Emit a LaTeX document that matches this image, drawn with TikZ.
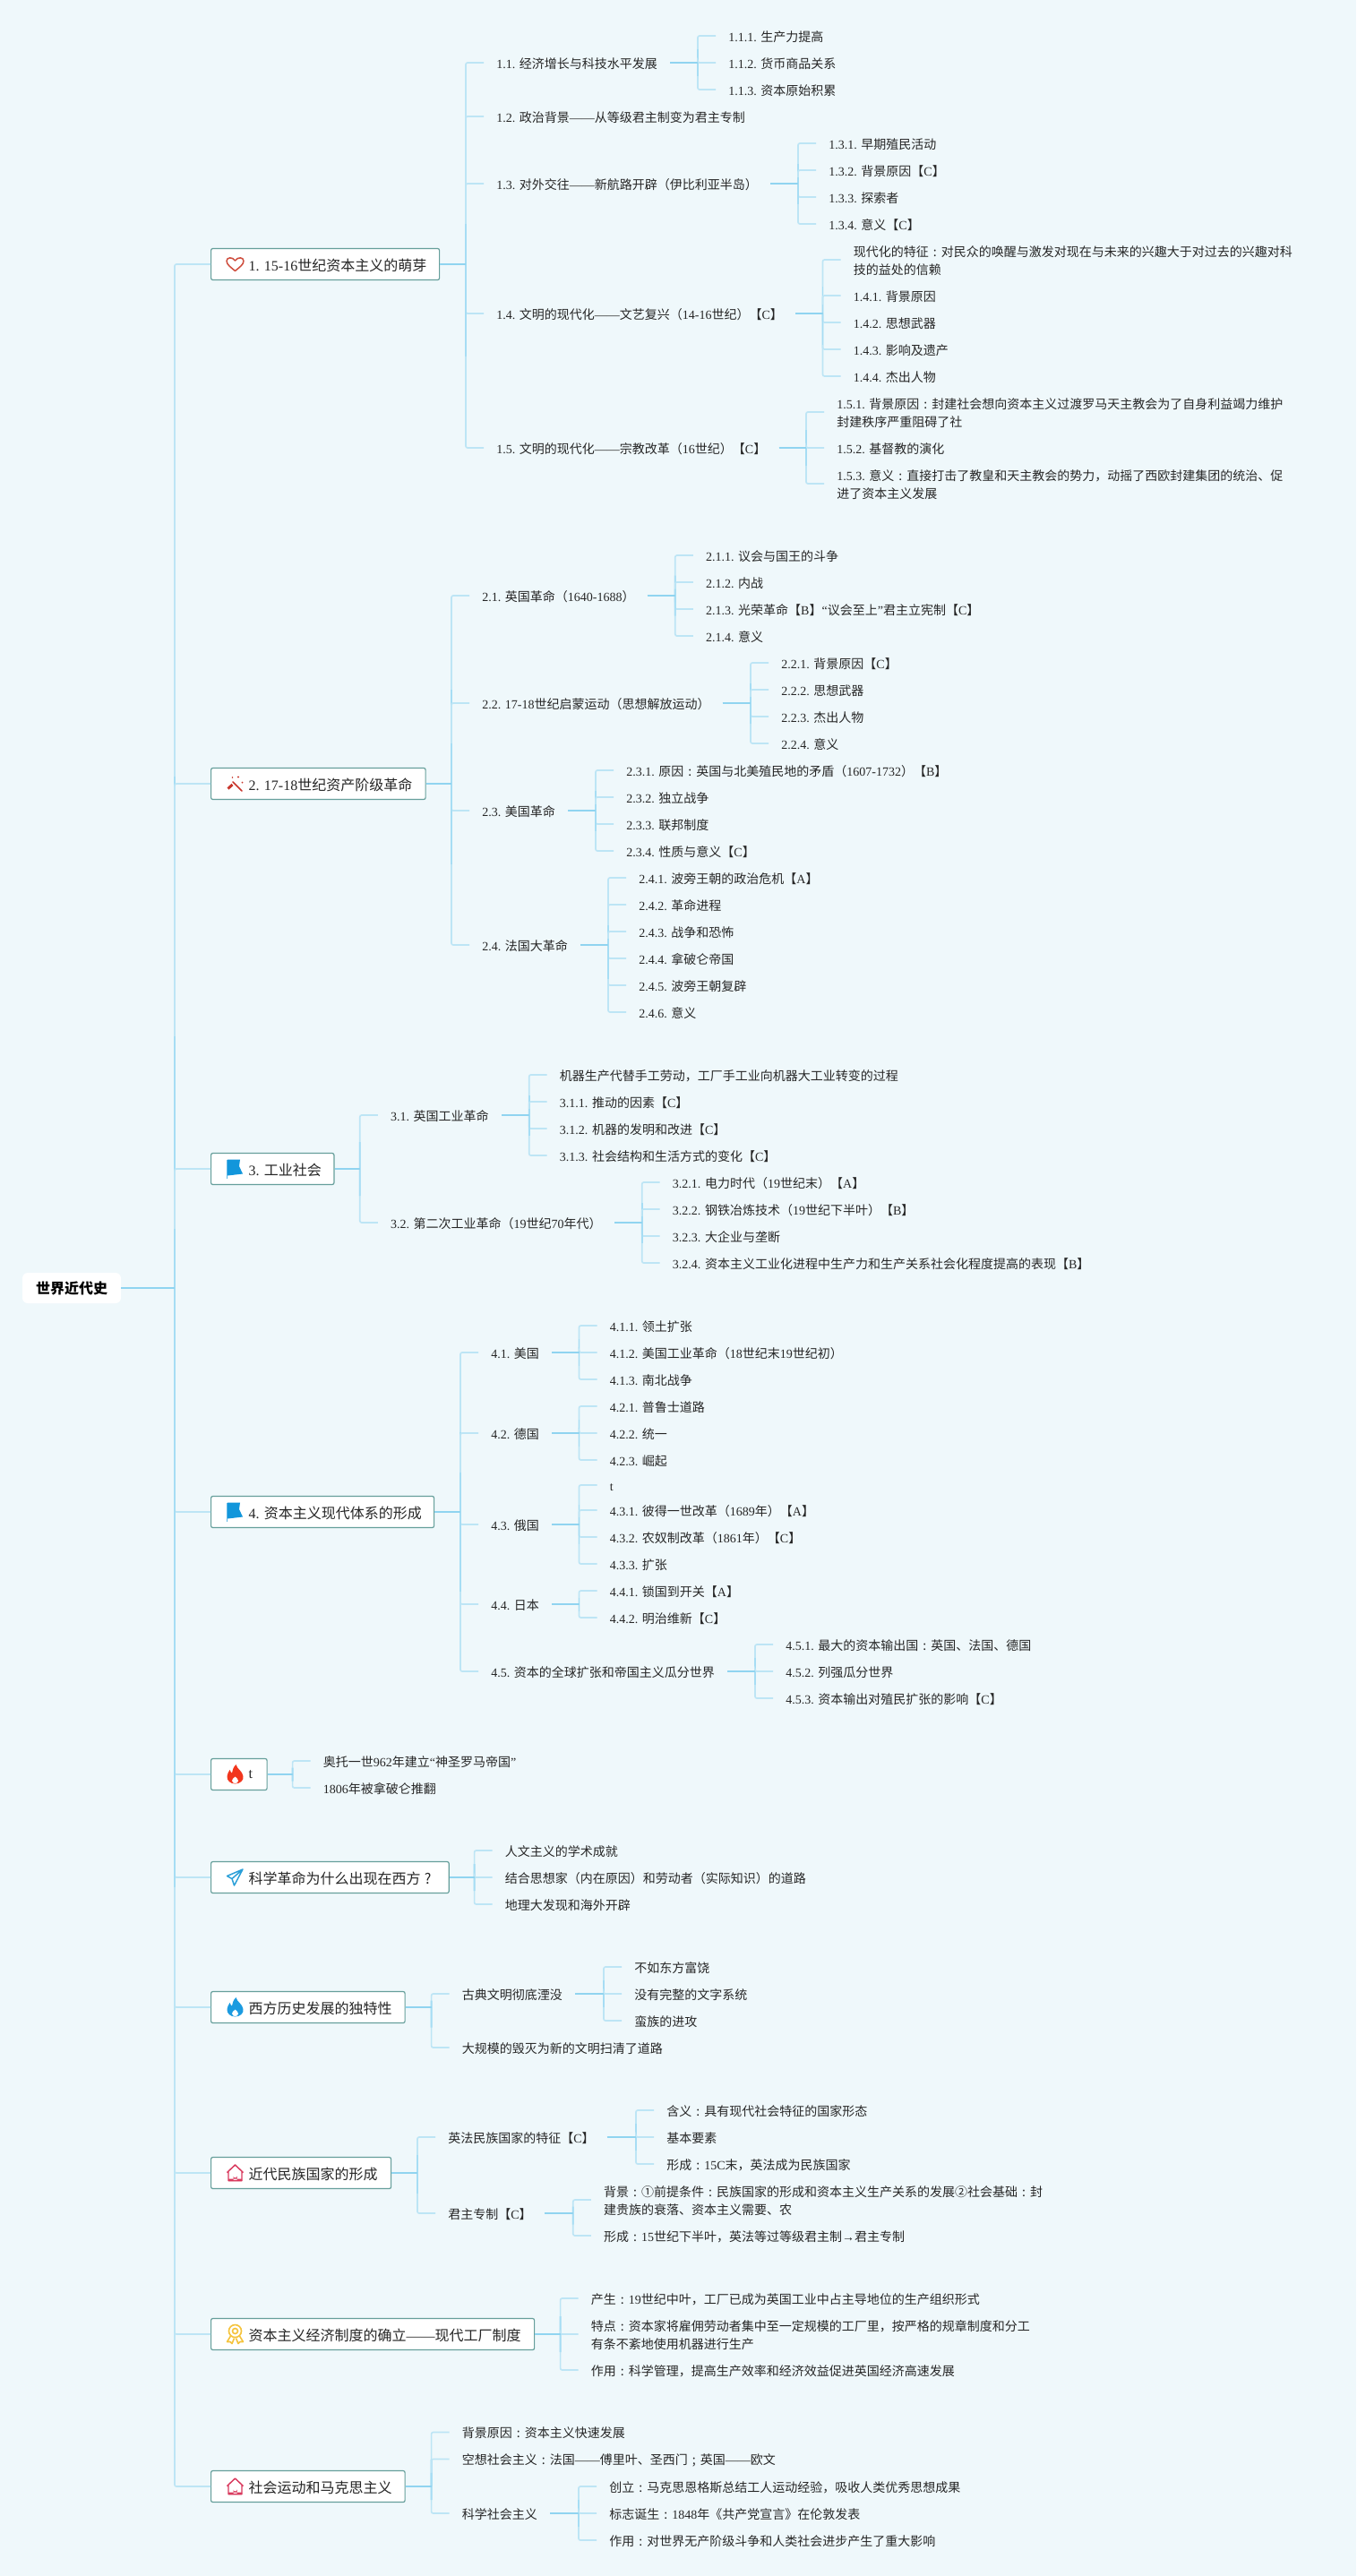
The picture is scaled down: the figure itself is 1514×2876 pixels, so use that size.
\documentclass[tikz,border=0pt]{standalone}
\usepackage{fontspec}
\usetikzlibrary{calc}
\setmainfont{Noto Sans CJK SC}
\newfontfamily\latinf{Liberation Serif}
\newcommand\ltn[1]{{\latinf #1}}
\newcommand\sw{\vrule width 0pt height 11pt depth 1.9pt\relax}
\newcommand\swb{\vrule width 0pt height 12.5pt depth 1.7pt\relax}
\newcommand\cn{\makebox[1em][c]{:}}
\newcommand\sm{\makebox[1em][c]{;}}
\newcommand\qm{\makebox[1em][c]{?}}
\definecolor{bgc}{HTML}{EFF8FB}
\definecolor{stemc}{HTML}{90D4F0}
\definecolor{midc}{HTML}{A6DDF4}
\definecolor{tickc}{HTML}{BDE5F5}
\definecolor{boxc}{HTML}{669F9B}
\definecolor{txt}{HTML}{262626}
\definecolor{heartc}{HTML}{CF4F3F}
\definecolor{wandc}{HTML}{C8352B}
\definecolor{flagc}{HTML}{1296DB}
\definecolor{flamer}{HTML}{F2361D}
\definecolor{flameb}{HTML}{1C9BE0}
\definecolor{planec}{HTML}{2A9FD8}
\definecolor{housec}{HTML}{D93A5E}
\definecolor{medalc}{HTML}{F5C33B}
\tikzset{
  leaf/.style={anchor=west,inner xsep=10.5pt,inner ysep=0pt,align=left,text=txt,
    font=\fontsize{10.5}{15}\selectfont},
  topbox/.style={anchor=west,draw=boxc,fill=white,line width=0.9pt,rounded corners=1.5pt,inner sep=0pt,
    minimum height=26.25pt,text=txt,font=\fontsize{12}{16}\selectfont},
  rootbox/.style={fill=white,rounded corners=4.5pt,inner sep=0pt,minimum width=82.5pt,minimum height=25.5pt,
    text=black,font=\fontsize{12}{16}\selectfont\bfseries},
  ticklink/.style={draw=tickc,line width=1.25pt,rounded corners=1.5pt},
  midlink/.style={draw=midc,line width=1.35pt},
  stemlink/.style={draw=stemc,line width=1.6pt},
}
\newcommand\lfn[4]{\node[leaf] (#1) at (#2,#3) {\sw #4};}
\newcommand\bx[5]{\node[topbox] (#1) at (235,#3) {\makebox[\dimexpr #2pt*3/4\relax][l]{\hspace*{31.5pt}\swb #5}};
  \begin{scope}[shift={(262.5,#3)}]#4\end{scope}}
\newcommand\fanout[3][20]{%
  \foreach \cc in {#3}{%
    \coordinate (sp) at ($(#2.east -| \cc.west)+(-#1,0)$);
    \draw[ticklink] (sp) |- (\cc.west);
    \draw[midlink] (sp) -- ($(sp)!0.5!(sp |- \cc.west)$);
    \draw[stemlink] (#2.east) -- (sp);
  }}
\newcommand\icoheart{\draw[draw=heartc,line width=1.15pt,line join=round]
  (0,7.5) .. controls (-4,4) and (-9.5,0.5) .. (-9.5,-3.5) .. controls (-9.5,-8) and (-3,-8.5) .. (0,-4)
  .. controls (3,-8.5) and (9.5,-8) .. (9.5,-3.5) .. controls (9.5,0.5) and (4,4) .. (0,7.5) -- cycle;}
\newcommand\icowand{\draw[draw=wandc,line width=1.3pt,line cap=round] (-2.5,-2) -- (7.5,8);
  \draw[draw=wandc,line width=2.2pt] (-8,5.5) -- (-3,1);
  \fill[wandc] (3.5,-7.5) circle (1.2) (8,-1.5) circle (1) (-3,-7) circle (.8);}
\newcommand\icoflag{\fill[flagc] (-8.5,-10.5) -- (5.5,-10.5) -- (4.5,-3) -- (8.5,5.5) -- (-8.5,7.5) -- cycle;
  \draw[draw=flagc!70!white,line width=.8pt] (-8.8,-10.5) -- (-8.8,11);}
\newcommand\icoflame[1]{\fill[#1] (1,-11) .. controls (2,-6) and (8,-4) .. (9,2) .. controls (10,7) and (5,10.5) .. (0,10.5)
  .. controls (-5,10.5) and (-9.5,7) .. (-9,2) .. controls (-8.7,-1) and (-7,-3) .. (-6,-5)
  .. controls (-5,-3) and (-4.5,-2) .. (-3.5,-1.5) .. controls (-3,-5) and (-2,-8) .. (1,-11) -- cycle;
  \fill[white] (0,2.5) .. controls (-2,4.5) and (-3.5,5.5) .. (-3.5,7) .. controls (-3.5,9) and (-1.5,10) .. (0,10)
  .. controls (2,10) and (3.5,9) .. (3.5,7) .. controls (3.5,5) and (1.5,4.5) .. (0,2.5) -- cycle;}
\newcommand\icoplane{\draw[draw=planec,line width=1.1pt,line join=round]
  (8.5,-9) -- (-9,-1.5) -- (-3.5,1.5) -- (-1,9) -- cycle (8.5,-9) -- (-3.5,1.5);}
\newcommand\icohouse{\draw[draw=housec,line width=1.1pt,line join=round]
  (-9,-0.5) -- (0,-9) -- (9,-0.5) (7.5,-2) -- (7.5,8.5) -- (-7.5,8.5) -- (-7.5,-2);
  \fill[housec] (-2,8.5) -- (-2,3.5) arc (180:0:2) -- (2,8.5) -- cycle (-7.5,6.5) rectangle (7.5,9);}
\newcommand\icomedal{\draw[draw=medalc,line width=1.2pt] (0,-3.5) circle (7) (0,-3.5) circle (3);
  \draw[draw=medalc,line width=1.2pt,line join=round] (-5,2) -- (-9,8.5) -- (-5.5,8.5) -- (-3.5,10.5) -- (-1,4.5)
    (5,2) -- (9,8.5) -- (5.5,8.5) -- (3.5,10.5) -- (1,4.5);}
\begin{document}
\lineskiplimit=-20pt
\begin{tikzpicture}[x=0.75pt,y=-0.75pt]
\useasboundingbox (0,0) rectangle (1514,2876);
\fill[bgc] (0,0) rectangle (1514,2876);

\node[rootbox] (root) at (80,1438) {世界近代史};

\bx{b1}{255}{295}{\icoheart}{\ltn{1. 15-16}世纪资本主义的萌芽}
\bx{b2}{239.5}{875}{\icowand}{\ltn{2. 17-18}世纪资产阶级革命}
\bx{b3}{137.3}{1305}{\icoflag}{\ltn{3. }工业社会}
\bx{b4}{249}{1688}{\icoflag}{\ltn{4. }资本主义现代体系的形成}
\bx{b5}{62.5}{1981}{\icoflame{flamer}}{\raisebox{2pt}{\ltn{t}}}
\bx{b6}{265.6}{2096}{\icoplane}{科学革命为什么出现在西方\qm}
\bx{b7}{216.5}{2241}{\icoflame{flameb}}{西方历史发展的独特性}
\bx{b8}{201}{2426}{\icohouse}{近代民族国家的形成}
\bx{b9}{361}{2606}{\icomedal}{资本主义经济制度的确立\ltn{——}现代工厂制度}
\bx{b10}{216.5}{2776}{\icohouse}{社会运动和马克思主义}

% branch 1
\lfn{n11}{540}{70}{\ltn{1.1. }经济增长与科技水平发展}
\lfn{n12}{540}{130}{\ltn{1.2. }政治背景\ltn{——}从等级君主制变为君主专制}
\lfn{n13}{540}{205}{\ltn{1.3. }对外交往\ltn{——}新航路开辟（伊比利亚半岛）}
\lfn{n14}{540}{350}{\ltn{1.4. }文明的现代化\ltn{——}文艺复兴（\ltn{14-16}世纪）【\ltn{C}】}
\lfn{n15}{540}{500}{\ltn{1.5. }文明的现代化\ltn{——}宗教改革（\ltn{16}世纪）【\ltn{C}】}
\lfn{n111}{799}{40}{\ltn{1.1.1. }生产力提高}
\lfn{n112}{799}{70}{\ltn{1.1.2. }货币商品关系}
\lfn{n113}{799}{100}{\ltn{1.1.3. }资本原始积累}
\lfn{n131}{911}{160}{\ltn{1.3.1. }早期殖民活动}
\lfn{n132}{911}{190}{\ltn{1.3.2. }背景原因【\ltn{C}】}
\lfn{n133}{911}{220}{\ltn{1.3.3. }探索者}
\lfn{n134}{911}{250}{\ltn{1.3.4. }意义【\ltn{C}】}
\lfn{n140}{938.5}{290}{现代化的特征\cn 对民众的唤醒与激发对现在与未来的兴趣大于对过去的兴趣对科\\\sw 技的益处的信赖}
\lfn{n141}{938.5}{330}{\ltn{1.4.1. }背景原因}
\lfn{n142}{938.5}{360}{\ltn{1.4.2. }思想武器}
\lfn{n143}{938.5}{390}{\ltn{1.4.3. }影响及遗产}
\lfn{n144}{938.5}{420}{\ltn{1.4.4. }杰出人物}
\lfn{n151}{920}{460}{\ltn{1.5.1. }背景原因\cn 封建社会想向资本主义过渡罗马天主教会为了自身利益竭力维护\\\sw 封建秩序严重阻碍了社}
\lfn{n152}{920}{500}{\ltn{1.5.2. }基督教的演化}
\lfn{n153}{920}{540}{\ltn{1.5.3. }意义\cn 直接打击了教皇和天主教会的势力，动摇了西欧封建集团的统治、促\\\sw 进了资本主义发展}

% branch 2
\lfn{n21}{524}{665}{\ltn{2.1. }英国革命（\ltn{1640-1688}）}
\lfn{n22}{524}{785}{\ltn{2.2. 17-18}世纪启蒙运动（思想解放运动）}
\lfn{n23}{524}{905}{\ltn{2.3. }美国革命}
\lfn{n24}{524}{1055}{\ltn{2.4. }法国大革命}
\lfn{n211}{773.8}{620}{\ltn{2.1.1. }议会与国王的斗争}
\lfn{n212}{773.8}{650}{\ltn{2.1.2. }内战}
\lfn{n213}{773.8}{680}{\ltn{2.1.3. }光荣革命【\ltn{B}】\ltn{“}议会至上\ltn{”}君主立宪制【\ltn{C}】}
\lfn{n214}{773.8}{710}{\ltn{2.1.4. }意义}
\lfn{n221}{858}{740}{\ltn{2.2.1. }背景原因【\ltn{C}】}
\lfn{n222}{858}{770}{\ltn{2.2.2. }思想武器}
\lfn{n223}{858}{800}{\ltn{2.2.3. }杰出人物}
\lfn{n224}{858}{830}{\ltn{2.2.4. }意义}
\lfn{n231}{685}{860}{\ltn{2.3.1. }原因\cn 英国与北美殖民地的矛盾（\ltn{1607-1732}）【\ltn{B}】}
\lfn{n232}{685}{890}{\ltn{2.3.2. }独立战争}
\lfn{n233}{685}{920}{\ltn{2.3.3. }联邦制度}
\lfn{n234}{685}{950}{\ltn{2.3.4. }性质与意义【\ltn{C}】}
\lfn{n241}{699}{980}{\ltn{2.4.1. }波旁王朝的政治危机【\ltn{A}】}
\lfn{n242}{699}{1010}{\ltn{2.4.2. }革命进程}
\lfn{n243}{699}{1040}{\ltn{2.4.3. }战争和恐怖}
\lfn{n244}{699}{1070}{\ltn{2.4.4. }拿破仑帝国}
\lfn{n245}{699}{1100}{\ltn{2.4.5. }波旁王朝复辟}
\lfn{n246}{699}{1130}{\ltn{2.4.6. }意义}

% branch 3
\lfn{n31}{421.8}{1245}{\ltn{3.1. }英国工业革命}
\lfn{n32}{421.8}{1365}{\ltn{3.2. }第二次工业革命（\ltn{19}世纪\ltn{70}年代）}
\lfn{n310}{610.7}{1200}{机器生产代替手工劳动，工厂手工业向机器大工业转变的过程}
\lfn{n311}{610.7}{1230}{\ltn{3.1.1. }推动的因素【\ltn{C}】}
\lfn{n312}{610.7}{1260}{\ltn{3.1.2. }机器的发明和改进【\ltn{C}】}
\lfn{n313}{610.7}{1290}{\ltn{3.1.3. }社会结构和生活方式的变化【\ltn{C}】}
\lfn{n321}{736.7}{1320}{\ltn{3.2.1. }电力时代（\ltn{19}世纪末）【\ltn{A}】}
\lfn{n322}{736.7}{1350}{\ltn{3.2.2. }钢铁冶炼技术（\ltn{19}世纪下半叶）【\ltn{B}】}
\lfn{n323}{736.7}{1380}{\ltn{3.2.3. }大企业与垄断}
\lfn{n324}{736.7}{1410}{\ltn{3.2.4. }资本主义工业化进程中生产力和生产关系社会化程度提高的表现【\ltn{B}】}

% branch 4
\lfn{n41}{534}{1510}{\ltn{4.1. }美国}
\lfn{n42}{534}{1600}{\ltn{4.2. }德国}
\lfn{n43}{534}{1702}{\ltn{4.3. }俄国}
\lfn{n44}{534}{1791}{\ltn{4.4. }日本}
\lfn{n45}{534}{1866}{\ltn{4.5. }资本的全球扩张和帝国主义瓜分世界}
\lfn{n411}{666.5}{1480}{\ltn{4.1.1. }领土扩张}
\lfn{n412}{666.5}{1510}{\ltn{4.1.2. }美国工业革命（\ltn{18}世纪末\ltn{19}世纪初）}
\lfn{n413}{666.5}{1540}{\ltn{4.1.3. }南北战争}
\lfn{n421}{666.5}{1570}{\ltn{4.2.1. }普鲁士道路}
\lfn{n422}{666.5}{1600}{\ltn{4.2.2. }统一}
\lfn{n423}{666.5}{1630}{\ltn{4.2.3. }崛起}
\lfn{n430}{666.5}{1658}{\ltn{t}}
\lfn{n431}{666.5}{1686}{\ltn{4.3.1. }彼得一世改革（\ltn{1689}年）【\ltn{A}】}
\lfn{n432}{666.5}{1716}{\ltn{4.3.2. }农奴制改革（\ltn{1861}年）【\ltn{C}】}
\lfn{n433}{666.5}{1746}{\ltn{4.3.3. }扩张}
\lfn{n441}{666.5}{1776}{\ltn{4.4.1. }锁国到开关【\ltn{A}】}
\lfn{n442}{666.5}{1806}{\ltn{4.4.2. }明治维新【\ltn{C}】}
\lfn{n451}{863}{1836}{\ltn{4.5.1. }最大的资本输出国\cn 英国、法国、德国}
\lfn{n452}{863}{1866}{\ltn{4.5.2. }列强瓜分世界}
\lfn{n453}{863}{1896}{\ltn{4.5.3. }资本输出对殖民扩张的影响【\ltn{C}】}

% branch 5
\lfn{n51}{346.6}{1966}{奥托一世\ltn{962}年建立\ltn{“}神圣罗马帝国\ltn{”}}
\lfn{n52}{346.6}{1996}{\ltn{1806}年被拿破仑推翻}

% branch 6
\lfn{n61}{549.6}{2066}{人文主义的学术成就}
\lfn{n62}{549.6}{2096}{结合思想家（内在原因）和劳动者（实际知识）的道路}
\lfn{n63}{549.6}{2126}{地理大发现和海外开辟}

% branch 7
\lfn{n71}{501.6}{2226}{古典文明彻底湮没}
\lfn{n72}{501.6}{2286}{大规模的毁灭为新的文明扫清了道路}
\lfn{n711}{694}{2196}{不如东方富饶}
\lfn{n712}{694}{2226}{没有完整的文字系统}
\lfn{n713}{694}{2256}{蛮族的进攻}

% branch 8
\lfn{n81}{486}{2386}{英法民族国家的特征【\ltn{C}】}
\lfn{n82}{486}{2471}{君主专制【\ltn{C}】}
\lfn{n811}{730}{2356}{含义\cn 具有现代社会特征的国家形态}
\lfn{n812}{730}{2386}{基本要素}
\lfn{n813}{730}{2416}{形成\cn\ltn{15C}末，英法成为民族国家}
\lfn{n821}{659.8}{2456}{背景\cn ①前提条件\cn 民族国家的形成和资本主义生产关系的发展②社会基础\cn 封\\\sw 建贵族的衰落、资本主义需要、农}
\lfn{n822}{659.8}{2496}{形成\cn\ltn{15}世纪下半叶，英法等过等级君主制\ltn{→}君主专制}

% branch 9
\lfn{n91}{645.6}{2566}{产生\cn\ltn{19}世纪中叶，工厂已成为英国工业中占主导地位的生产组织形式}
\lfn{n92}{645.6}{2606}{特点\cn 资本家将雇佣劳动者集中至一定规模的工厂里，按严格的规章制度和分工\\\sw 有条不紊地使用机器进行生产}
\lfn{n93}{645.6}{2646}{作用\cn 科学管理，提高生产效率和经济效益促进英国经济高速发展}

% branch 10
\lfn{n101}{501.6}{2715.5}{背景原因\cn 资本主义快速发展}
\lfn{n102}{501.6}{2745.5}{空想社会主义\cn 法国\ltn{——}傅里叶、圣西门\sm 英国\ltn{——}欧文}
\lfn{n103}{501.6}{2806}{科学社会主义}
\lfn{n1031}{666}{2776}{创立\cn 马克思恩格斯总结工人运动经验，吸收人类优秀思想成果}
\lfn{n1032}{666}{2806}{标志诞生\cn\ltn{1848}年《共产党宣言》在伦敦发表}
\lfn{n1033}{666}{2836}{作用\cn 对世界无产阶级斗争和人类社会进步产生了重大影响}

% connectors
\fanout[40]{root}{b1,b2,b3,b4,b5,b6,b7,b8,b9,b10}
\fanout{b1}{n11,n12,n13,n14,n15}
\fanout{n11}{n111,n112,n113}
\fanout{n13}{n131,n132,n133,n134}
\fanout{n14}{n140,n141,n142,n143,n144}
\fanout{n15}{n151,n152,n153}
\fanout{b2}{n21,n22,n23,n24}
\fanout{n21}{n211,n212,n213,n214}
\fanout{n22}{n221,n222,n223,n224}
\fanout{n23}{n231,n232,n233,n234}
\fanout{n24}{n241,n242,n243,n244,n245,n246}
\fanout{b3}{n31,n32}
\fanout{n31}{n310,n311,n312,n313}
\fanout{n32}{n321,n322,n323,n324}
\fanout{b4}{n41,n42,n43,n44,n45}
\fanout{n41}{n411,n412,n413}
\fanout{n42}{n421,n422,n423}
\fanout{n43}{n430,n431,n432,n433}
\fanout{n44}{n441,n442}
\fanout{n45}{n451,n452,n453}
\fanout{b5}{n51,n52}
\fanout{b6}{n61,n62,n63}
\fanout{b7}{n71,n72}
\fanout{n71}{n711,n712,n713}
\fanout{b8}{n81,n82}
\fanout{n81}{n811,n812,n813}
\fanout{n82}{n821,n822}
\fanout{b9}{n91,n92,n93}
\fanout{b10}{n101,n102,n103}
\fanout{n103}{n1031,n1032,n1033}
\end{tikzpicture}
\end{document}
